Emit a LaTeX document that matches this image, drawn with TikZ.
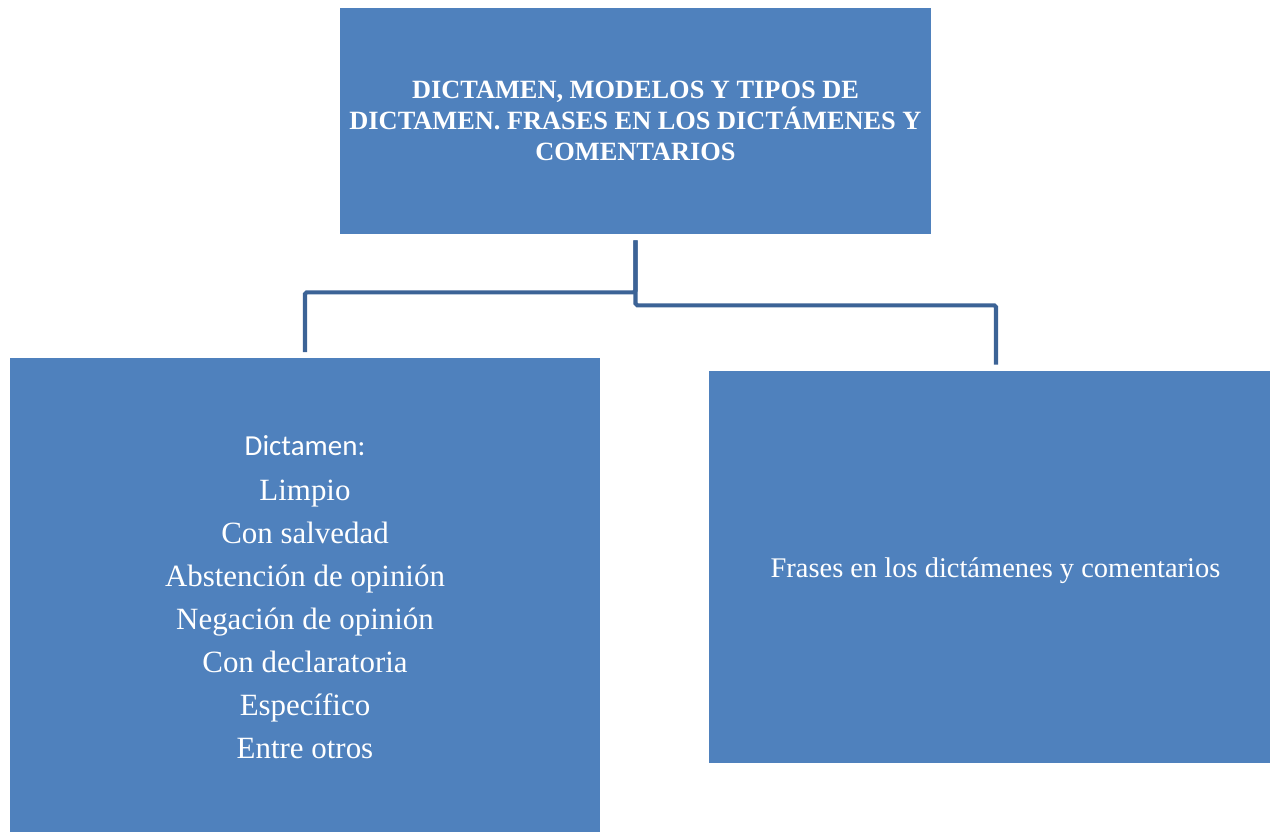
\documentclass[tikz,border=0pt]{standalone}
\usepackage{fontspec}
\setmainfont{Liberation Serif}
\newfontfamily\calibrifont{Carlito}
\usetikzlibrary{calc}
\definecolor{boxblue}{RGB}{79,129,189}
\definecolor{linkblue}{RGB}{60,99,150}

\begin{document}
\begin{tikzpicture}[x=0.02cm, y=-0.02cm,
    box/.style={fill=boxblue, text=white, inner sep=0pt, align=center},
    link/.style={draw=linkblue, line width=2.3pt, rounded corners=1pt},
]
\useasboundingbox (0,0) rectangle (1270,831);

% ─────────────────────────────────────────
% Title box
% ─────────────────────────────────────────
\node[box, minimum width=11.82cm, minimum height=4.52cm, font=\fontsize{15}{17.6}\selectfont\bfseries] (title) at (635.5,121)
    {DICTAMEN, MODELOS Y TIPOS DE\\DICTAMEN. FRASES EN LOS DICTÁMENES Y\\COMENTARIOS};

% ─────────────────────────────────────────
% Children
% ─────────────────────────────────────────
\node[box, minimum width=11.8cm, minimum height=9.58cm, font=\fontsize{17.6}{24.5}\selectfont] (tipos) at (305,597.5)
    {{\calibrifont\fontsize{16.5}{24.5}\selectfont Dictamen:}\\[1pt]
     Limpio\\Con salvedad\\Abstención de opinión\\Negación de opinión\\Con declaratoria\\Específico\\Entre otros};
\node[box, minimum width=11.22cm, minimum height=7.84cm, font=\fontsize{16.2}{20}\selectfont] (frases) at (989.5,567)
    {\raisebox{-0.08cm}[\height][\depth]{\hspace*{0.24cm}Frases en los dictámenes y comentarios}};

% Connectors
\draw[link] ([yshift=-0.12cm]title.south) -- ++(0,52) -| (tipos.north |- 0,352);
\draw[link] ([yshift=-0.12cm]title.south) -- ++(0,65) -| ([xshift=0.13cm, yshift=0.12cm]frases.north);

\end{tikzpicture}
\end{document}
